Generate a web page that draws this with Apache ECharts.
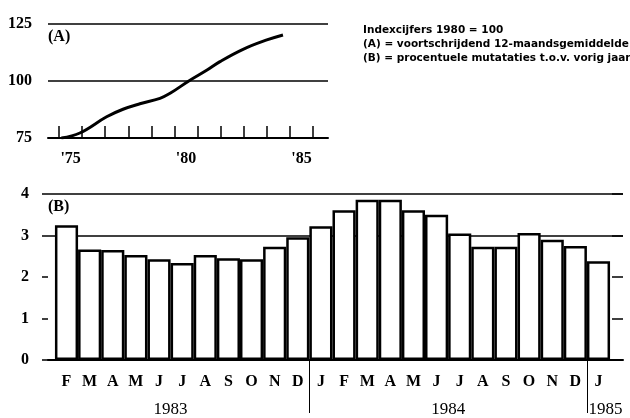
<!DOCTYPE html>
<html>
<head>
<meta charset="utf-8">
<script src="https://cdn.jsdelivr.net/npm/echarts@6/dist/echarts.min.js"></script>
<style>
  html,body{margin:0;padding:0;background:#fff;}
  #chart{width:630px;height:418px;}
</style>
</head>
<body>
<div id="chart"></div>
<script>
// (A) index, 12-month moving average: [year, index]
const indexYears = [1975.1, 1975.9, 1977.06, 1977.77, 1978.5, 1979.37, 1979.81, 1980.62, 1981.41, 1981.97, 1982.97, 1984.0, 1984.7]
const indexValues = [75, 77.2, 84.3, 87.6, 90, 92.4, 94.6, 100, 104.8, 108.5, 113.9, 118, 120.2]
const indexYearTicks = [1975, 1976, 1977, 1978, 1979, 1980, 1981, 1982, 1983, 1984, 1985, 1986]
const indexYearLabels = ["'75", "'80", "'85"]

// (B) yearly % change, Feb 1983 .. Jan 1985
const months = ['F','M','A','M','J','J','A','S','O','N','D',
  'J','F','M','A','M','J','J','A','S','O','N','D','J']
const changes = [3.25, 2.66, 2.65, 2.53, 2.43, 2.34, 2.53, 2.45, 2.43, 2.73, 2.96,
  3.22, 3.61, 3.86, 3.86, 3.61, 3.50, 3.05, 2.73, 2.73, 3.06, 2.90, 2.75, 2.38]
const years = ['1983', '1984', '1985']
const yearCenters = [4.5, 16.5, 23.3]   // month index where each year label sits
const yearBreaks = [10.5, 22.5]

const serif = 'Liberation Serif'
const chart = echarts.init(document.getElementById('chart'))

// y axis line invisible, and not moved onto x = 0
const hiddenLine = {show: true, onZero: false, lineStyle: {color: 'rgba(0,0,0,0)', width: 1}}

const option = {
  backgroundColor: '#fff',
  animation: false,
  grid: [
    {left: 48, top: 24, width: 280, height: 114},
    {left: 48, top: 194, right: 7, height: 171}
  ],
  xAxis: [{
    gridIndex: 0, type: 'value', min: 1974.52, max: 1986.65,
    axisLine: {onZero: false, lineStyle: {color: '#000', width: 2}},
    axisTick: {show: true, inside: true, length: 12, customValues: indexYearTicks, lineStyle: {color: '#000', width: 1.5}},
    axisLabel: {
      customValues: [1975.5, 1980.5, 1985.5],
      formatter: v => indexYearLabels[Math.round((v - 1975.5) / 5)],
      color: '#000', fontFamily: serif, fontWeight: 'bold', fontSize: 16, margin: 13
    },
    splitLine: {show: false}
  }, {
    gridIndex: 1, type: 'value', min: -0.8, max: 24.06,
    axisLine: {onZero: false, lineStyle: {color: '#000', width: 2}},
    axisTick: {show: true, length: 53, customValues: yearBreaks, lineStyle: {color: '#000', width: 1}},
    axisLabel: {
      customValues: months.map((m, i) => i),
      formatter: v => months[v],
      color: '#000', fontFamily: serif, fontWeight: 'bold', fontSize: 16, margin: 14
    },
    splitLine: {show: false}
  }, {
    gridIndex: 1, type: 'value', min: -0.8, max: 24.06, position: 'bottom',
    axisLine: {show: false, onZero: false}, axisTick: {show: false},
    axisLabel: {
      customValues: yearCenters,
      formatter: v => years[yearCenters.indexOf(v)],
      color: '#000', fontFamily: serif, fontSize: 17, margin: 41
    },
    splitLine: {show: false}
  }],
  yAxis: [{
    gridIndex: 0, type: 'value', min: 75, max: 125, interval: 25,
    axisLine: {show: false, onZero: false}, axisTick: {show: false},
    axisLabel: {color: '#000', fontFamily: serif, fontWeight: 'bold', fontSize: 16, margin: 16},
    splitLine: {lineStyle: {color: '#000', width: 1.5}}
  }, {
    gridIndex: 1, type: 'value', min: 0, max: 4, interval: 1,
    axisLine: hiddenLine,
    axisTick: {show: true, length: 6, lineStyle: {color: '#000', width: 1.5}},
    axisLabel: {color: '#000', fontFamily: serif, fontWeight: 'bold', fontSize: 16, margin: 19},
    splitLine: {show: true, lineStyle: {color: ['rgba(0,0,0,0)', 'rgba(0,0,0,0)', 'rgba(0,0,0,0)', '#000', '#000'], width: 1.5}}
  }, {
    gridIndex: 1, type: 'value', min: 0, max: 4, interval: 1, position: 'right',
    axisLine: hiddenLine,
    axisTick: {show: true, inside: true, length: 11, lineStyle: {color: '#000', width: 1.5}},
    axisLabel: {show: false},
    splitLine: {show: false}
  }],
  series: [{
    type: 'line', xAxisIndex: 0, yAxisIndex: 0,
    data: indexYears.map((y, i) => [y, indexValues[i]]),
    smooth: 0.4, showSymbol: false,
    lineStyle: {color: '#000', width: 3}
  }, {
    type: 'bar', xAxisIndex: 1, yAxisIndex: 1,
    data: changes.map((v, i) => [i, v]),
    barWidth: 23.13,
    itemStyle: {color: '#fff', borderColor: '#000', borderWidth: 2.5}
  }],
  graphic: [
    {type: 'text', left: 48, top: 29, style: {text: '(A)', fontFamily: serif, fontWeight: 'bold', fontSize: 16, fill: '#000'}},
    {type: 'text', left: 48, top: 199, style: {text: '(B)', fontFamily: serif, fontWeight: 'bold', fontSize: 16, fill: '#000'}},
    {type: 'text', left: 363, top: 23, style: {
      text: 'Indexcijfers 1980 = 100\n(A) = voortschrijdend 12-maandsgemiddelde\n(B) = procentuele mutataties t.o.v. vorig jaar',
      fontFamily: 'DejaVu Sans', fontWeight: 'bold', fontSize: 10.5, lineHeight: 14, fill: '#000'
    }}
  ]
}
chart.setOption(option)
</script>
</body>
</html>
